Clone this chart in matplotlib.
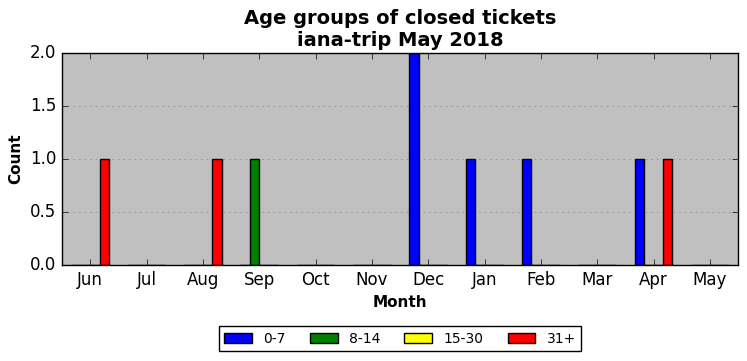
import matplotlib
matplotlib.use('Agg')
import matplotlib.pyplot as plt
import numpy as np

# Months on the x axis.
months = ['Jun', 'Jul', 'Aug', 'Sep', 'Oct', 'Nov', 'Dec', 'Jan', 'Feb', 'Mar', 'Apr', 'May']

# Closed ticket counts per age group.
age_labels = ['0-7', '8-14', '15-30', '31+']
counts_0_7 = [0, 0, 0, 0, 0, 0, 2, 1, 1, 0, 1, 0]
counts_8_14 = [0, 0, 0, 1, 0, 0, 0, 0, 0, 0, 0, 0]
counts_15_30 = [0, 0, 0, 0, 0, 0, 0, 0, 0, 0, 0, 0]
counts_31_plus = [1, 0, 1, 0, 0, 0, 0, 0, 0, 0, 1, 0]
bar_colors = ['blue', 'green', 'yellow', 'red']

plt.style.use('classic')

fig = plt.figure(figsize=(7.47, 3.61), dpi=100, facecolor='white')
ax = fig.add_axes([0.083, 0.266, 0.905, 0.587])
ax.set_facecolor('silver')

x = np.arange(len(months))
width = 1.0 / 6
series = [counts_0_7, counts_8_14, counts_15_30, counts_31_plus]
for i, (values, label, color) in enumerate(zip(series, age_labels, bar_colors)):
    offset = (i - 1.5) * width
    ax.bar(x + offset, values, width, color=color, edgecolor='black',
           linewidth=1, label=label, align='center')

ax.set_xlim(-0.5, len(months) - 0.5)
ax.set_ylim(0, 2)
ax.set_xticks(x)
ax.set_xticklabels(months)
ax.set_yticks([0.0, 0.5, 1.0, 1.5, 2.0])
ax.yaxis.grid(True, color='gray', linestyle=':')
ax.set_axisbelow(True)

ax.set_xlabel('Month', fontsize=11, fontweight='bold')
ax.set_ylabel('Count', fontsize=11, fontweight='bold')
ax.set_title('Age groups of closed tickets\niana-trip May 2018', fontsize=14, fontweight='bold')

ax.legend(loc='upper center', bbox_to_anchor=(0.5, -0.257), ncol=4, fontsize=10,
          columnspacing=1.75, fancybox=False, frameon=True)

fig.savefig('out.png', dpi=100, facecolor='white')
